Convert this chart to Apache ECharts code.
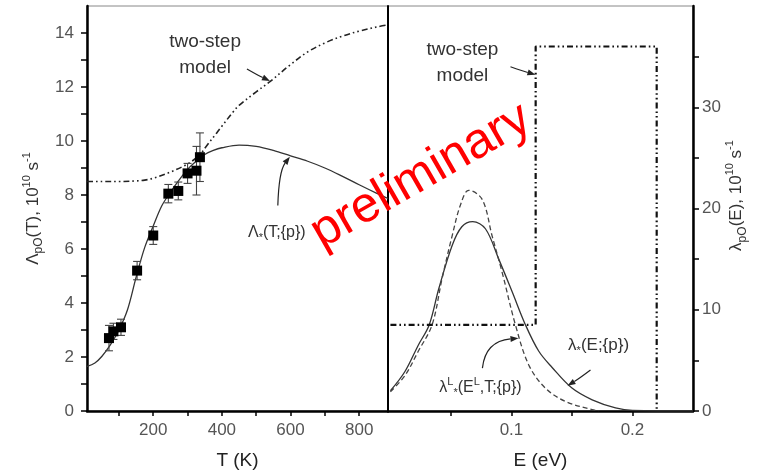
<!DOCTYPE html>
<html>
<head>
<meta charset="utf-8">
<script src="https://cdn.jsdelivr.net/npm/echarts@6/dist/echarts.min.js"></script>
<style>
html,body{margin:0;padding:0;background:#fff;}
#c{width:760px;height:475px;}
</style>
</head>
<body>
<div id="c"></div>
<script>
// ---------- Left panel: Lambda(T) ----------
const curveT     = [7, 30, 50, 75, 100, 125, 150, 175, 200, 225, 250, 275, 300, 325, 350, 375, 400, 450, 500, 550, 600, 650, 700, 750, 800, 850, 884];
const curveLam   = [1.65, 1.78, 2.02, 2.45, 3.0, 3.75, 4.95, 6.05, 6.85, 7.6, 8.1, 8.55, 8.95, 9.25, 9.5, 9.65, 9.75, 9.85, 9.8, 9.65, 9.45, 9.25, 9.0, 8.7, 8.38, 8.07, 7.87];
const twoStepT   = [7, 50, 100, 150, 175, 200, 250, 300, 336, 350, 385, 400, 433, 450, 500, 540, 600, 650, 700, 750, 800, 850, 884];
const twoStepLam = [8.5, 8.5, 8.5, 8.52, 8.55, 8.62, 8.85, 9.15, 9.49, 9.73, 10.3, 10.55, 11.08, 11.32, 11.82, 12.2, 12.83, 13.3, 13.63, 13.88, 14.07, 14.22, 14.3];
const expT       = [71, 84, 106, 153, 200, 244, 273, 300, 326, 336];
const expLam     = [2.7, 2.95, 3.1, 5.2, 6.5, 8.05, 8.15, 8.8, 8.9, 9.4];
const expErr     = [0.47, 0.3, 0.3, 0.34, 0.33, 0.34, 0.33, 0.37, 0.9, 0.9];
const xTicksT    = [100, 200, 300, 400, 500, 600, 700, 800];
const xLabelsT   = [200, 400, 600, 800];
const yTicksL    = [0, 1, 2, 3, 4, 5, 6, 7, 8, 9, 10, 11, 12, 13, 14];
const yLabelsL   = [0, 2, 4, 6, 8, 10, 12, 14];

// ---------- Right panel: lambda(E) ----------
const solidE     = [0, 0.012, 0.023, 0.032, 0.040, 0.051, 0.059, 0.068, 0.0785, 0.0895, 0.1005, 0.1116, 0.1226, 0.1336, 0.150, 0.1667, 0.186, 0.2, 0.25];
const solidLam   = [2.0, 3.9, 6.5, 8.5, 12.1, 16.35, 18.2, 18.7, 18.0, 15.0, 11.8, 8.5, 5.9, 4.3, 2.26, 1.1, 0.3, 0.05, 0];
const dashE      = [0, 0.012, 0.023, 0.0344, 0.0427, 0.051, 0.058, 0.0647, 0.0758, 0.084, 0.0923, 0.1033, 0.1143, 0.128, 0.1446, 0.1667, 0.172];
const dashLam    = [1.9, 3.5, 5.9, 8.5, 13.1, 17.3, 20.4, 21.8, 20.9, 17.3, 13.7, 8.5, 4.55, 2.26, 0.95, 0.13, 0];
const stepE      = [0, 0.12, 0.12, 0.22, 0.22];
const stepLam    = [8.5, 8.5, 36, 36, 0];
const xTicksE    = [0.05, 0.1, 0.15, 0.2];
const xLabelsE   = [0.1, 0.2];
const yTicksR    = [0, 5, 10, 15, 20, 25, 30, 35];
const yLabelsR   = [0, 10, 20, 30];

// ---------- Annotations (data coordinates) ----------
const noteLeftTwoStep  = [351, 13.19];
const arrowLeftTwoStep = [[473, 12.67], [506, 12.43], [540, 12.22]];
const noteLambdaT      = [560, 6.61];
const arrowLambdaT     = [[563, 7.61], [566, 8.87], [598, 9.42]];
const noteRightTwoStep = [0.0595, 34.4];
const arrowRightTwoStep= [[0.0992, 34.0], [0.109, 33.6], [0.1198, 33.2]];
const noteLambdaE      = [0.172, 6.5];
const arrowLambdaE     = [[0.1653, 4.04], [0.156, 3.2], [0.1463, 2.5]];
const noteLambdaL      = [0.0744, 2.36];
const arrowLambdaL     = [[0.0760, 4.24], [0.0785, 6.9], [0.1058, 7.19]];

const FONT = '"Liberation Sans", Arial, sans-serif';
const pair = (xs, ys) => xs.map((x, i) => [x, ys[i]]);
const dashDotDot = [6, 3, 1.6, 3, 1.6, 3];

const nameRich = {
  b: {fontSize: 17, fontFamily: FONT, color: '#333', lineHeight: 24},
  s: {fontSize: 12, fontFamily: FONT, color: '#333', lineHeight: 12, verticalAlign: 'bottom'},
  p: {fontSize: 11, fontFamily: FONT, color: '#333', lineHeight: 11, verticalAlign: 'top'}
};

const chart = echarts.init(document.getElementById('c'), null, {renderer: 'canvas'});

const axisLineStyle = {color: '#000', width: 2.5};
const option = {
  animation: false,
  backgroundColor: '#fff',
  grid: [
    {left: 87, right: 372, top: 6, bottom: 62, show: true, borderColor: '#888', borderWidth: 1, backgroundColor: 'transparent'},
    {left: 388, right: 67, top: 6, bottom: 62, show: true, borderColor: '#888', borderWidth: 1, backgroundColor: 'transparent'}
  ],
  xAxis: [
    {
      type: 'value', gridIndex: 0, min: 7, max: 884,
      axisLine: {show: true, onZero: false, lineStyle: axisLineStyle},
      axisTick: {show: true, customValues: xTicksT, length: 5, lineStyle: {color: '#000', width: 1.5}},
      axisLabel: {customValues: xLabelsT, color: '#555', fontSize: 17, fontFamily: FONT, margin: 11},
      splitLine: {show: false},
      name: 'T (K)', nameLocation: 'middle', nameGap: 40,
      nameTextStyle: {fontSize: 19, color: '#222', fontFamily: FONT}
    },
    {
      type: 'value', gridIndex: 1, min: -0.002, max: 0.25,
      axisLine: {show: true, onZero: false, lineStyle: axisLineStyle},
      axisTick: {show: true, customValues: xTicksE, length: 5, lineStyle: {color: '#000', width: 1.5}},
      axisLabel: {customValues: xLabelsE, color: '#555', fontSize: 17, fontFamily: FONT, margin: 11,
                  formatter: v => String(Math.round(v * 10) / 10)},
      splitLine: {show: false},
      name: 'E (eV)', nameLocation: 'middle', nameGap: 40,
      nameTextStyle: {fontSize: 19, color: '#222', fontFamily: FONT}
    }
  ],
  yAxis: [
    {
      type: 'value', gridIndex: 0, min: 0, max: 15, position: 'left',
      axisLine: {show: true, onZero: false, lineStyle: axisLineStyle},
      axisTick: {show: true, customValues: yTicksL, length: 6, lineStyle: {color: '#000', width: 1.5}},
      axisLabel: {customValues: yLabelsL, color: '#555', fontSize: 17, fontFamily: FONT, margin: 13},
      splitLine: {show: false},
      name: '{b|Λ}{s|pO}{b|(T), 10}{p|10}{b| s}{p|-1}',
      nameLocation: 'middle', nameRotate: 90, nameGap: 42,
      nameTextStyle: {rich: nameRich}
    },
    {
      type: 'value', gridIndex: 1, min: 0, max: 40, position: 'right',
      axisLine: {show: true, onZero: false, lineStyle: axisLineStyle},
      axisTick: {show: true, customValues: yTicksR, length: 6, lineStyle: {color: '#000', width: 1.5}},
      axisLabel: {customValues: yLabelsR, color: '#555', fontSize: 17, fontFamily: FONT, margin: 9},
      splitLine: {show: false},
      name: '{b|λ}{s|pO}{b|(E), 10}{p|10}{b| s}{p|-1}',
      nameLocation: 'middle', nameRotate: 90, nameGap: 31,
      nameTextStyle: {rich: nameRich, padding: [0, 0, 0, 26]}
    },
    {
      type: 'value', gridIndex: 1, min: 0, max: 40, position: 'left',
      axisLine: {show: true, onZero: false, lineStyle: {color: '#000', width: 2}},
      axisTick: {show: false}, axisLabel: {show: false}, splitLine: {show: false}
    }
  ],
  series: [
    {
      name: 'Lambda', type: 'line', xAxisIndex: 0, yAxisIndex: 0,
      data: pair(curveT, curveLam), smooth: 0.35, symbol: 'none',
      lineStyle: {color: '#333', width: 1.3}, z: 3
    },
    {
      name: 'two-step T', type: 'line', xAxisIndex: 0, yAxisIndex: 0,
      data: pair(twoStepT, twoStepLam), smooth: 0.35, symbol: 'none',
      lineStyle: {color: '#222', width: 1.6, type: dashDotDot}, z: 3
    },
    {
      name: 'errors', type: 'custom', xAxisIndex: 0, yAxisIndex: 0,
      data: expT.map((t, i) => [t, expLam[i], expErr[i]]),
      encode: {x: 0, y: 1},
      renderItem: function (params, api) {
        const x = api.value(0), y = api.value(1), e = api.value(2);
        const top = api.coord([x, y + e]);
        const bot = api.coord([x, y - e]);
        const hw = 4;
        const st = {stroke: '#444', lineWidth: 1.1};
        return {
          type: 'group',
          children: [
            {type: 'line', shape: {x1: top[0], y1: top[1], x2: bot[0], y2: bot[1]}, style: st},
            {type: 'line', shape: {x1: top[0] - hw, y1: top[1], x2: top[0] + hw, y2: top[1]}, style: st},
            {type: 'line', shape: {x1: bot[0] - hw, y1: bot[1], x2: bot[0] + hw, y2: bot[1]}, style: st}
          ]
        };
      },
      z: 4
    },
    {
      name: 'exp', type: 'scatter', xAxisIndex: 0, yAxisIndex: 0,
      data: pair(expT, expLam), symbol: 'rect', symbolSize: 10,
      itemStyle: {color: '#000', opacity: 1}, z: 5
    },
    {
      name: 'lambda', type: 'line', xAxisIndex: 1, yAxisIndex: 1,
      data: pair(solidE, solidLam), smooth: 0.35, symbol: 'none',
      lineStyle: {color: '#333', width: 1.3}, z: 3
    },
    {
      name: 'lambdaL', type: 'line', xAxisIndex: 1, yAxisIndex: 1,
      data: pair(dashE, dashLam), smooth: 0.35, symbol: 'none',
      lineStyle: {color: '#444', width: 1.3, type: [5, 3]}, z: 3
    },
    {
      name: 'two-step E', type: 'line', xAxisIndex: 1, yAxisIndex: 1,
      data: pair(stepE, stepLam), smooth: false, symbol: 'none',
      lineStyle: {color: '#111', width: 2.2, type: dashDotDot}, z: 3
    }
  ]
};
chart.setOption(option);

// ---- annotations, positioned via the axes ----
function toPx(grid, p) { return chart.convertToPixel({gridIndex: grid}, p); }
function arrow(grid, pts) {
  const a = toPx(grid, pts[0]), c = toPx(grid, pts[1]), b = toPx(grid, pts[2]);
  const dx = b[0] - c[0], dy = b[1] - c[1];
  const L = Math.hypot(dx, dy) || 1;
  const ux = dx / L, uy = dy / L;
  const len = 8, w = 3;
  const bx = b[0] - ux * len, by = b[1] - uy * len;
  return [
    {type: 'bezierCurve', shape: {x1: a[0], y1: a[1], cpx1: c[0], cpy1: c[1], x2: bx, y2: by},
     style: {stroke: '#222', lineWidth: 1.2, fill: null}, z: 10},
    {type: 'polygon', shape: {points: [[b[0], b[1]], [bx - uy * w, by + ux * w], [bx + uy * w, by - ux * w]]},
     style: {fill: '#222'}, z: 10}
  ];
}
function label(grid, p, text, size, rich) {
  const q = toPx(grid, p);
  return {
    type: 'text', x: q[0], y: q[1], z: 10,
    style: {
      text: text, font: size + 'px ' + FONT, fill: '#333',
      align: 'center', verticalAlign: 'middle', textAlign: 'center', textVerticalAlign: 'middle',
      lineHeight: Math.round(size * 1.35), rich: rich || {}
    }
  };
}
const subRich = {
  s: {fontSize: 11, fontFamily: FONT, color: '#333', verticalAlign: 'bottom', lineHeight: 10},
  u: {fontSize: 11, fontFamily: FONT, color: '#333', verticalAlign: 'top', lineHeight: 10}
};
const graphics = [].concat(
  [label(0, noteLeftTwoStep, 'two-step\nmodel', 19)],
  arrow(0, arrowLeftTwoStep),
  [label(0, noteLambdaT, 'Λ{s|*}(T;{p})', 16, subRich)],
  arrow(0, arrowLambdaT),
  [label(1, noteRightTwoStep, 'two-step\nmodel', 19)],
  arrow(1, arrowRightTwoStep),
  [label(1, noteLambdaE, 'λ{s|*}(E;{p})', 17, subRich)],
  arrow(1, arrowLambdaE),
  [label(1, noteLambdaL, 'λ{u|L}{s|*}(E{u|L},T;{p})', 16, subRich)],
  arrow(1, arrowLambdaL),
  [{
    type: 'text', x: 421, y: 176, rotation: 0.52, z: 20,
    style: {
      text: 'preliminary', font: '50px ' + FONT, fill: '#ff0000',
      align: 'center', verticalAlign: 'middle', textAlign: 'center', textVerticalAlign: 'middle'
    }
  }]
);
chart.setOption({graphic: graphics});
</script>
</body>
</html>
